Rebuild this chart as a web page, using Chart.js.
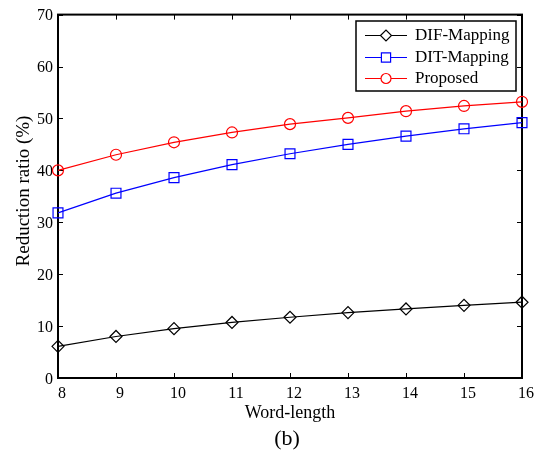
<!DOCTYPE html>
<html>
<head>
<meta charset="utf-8">
<script src="https://cdn.jsdelivr.net/npm/chart.js@4.4.1/dist/chart.umd.min.js"></script>
<style>
  html, body { margin: 0; padding: 0; background: #fff; }
  #wrap { width: 544px; height: 461px; }
</style>
</head>
<body>
<div id="wrap"><canvas id="myChart" width="544" height="461"></canvas></div>
<script>
const wordLengths = [8, 9, 10, 11, 12, 13, 14, 15, 16];
const difMapping = [6.1, 8.0, 9.5, 10.7, 11.7, 12.6, 13.3, 14.0, 14.6];
const ditMapping = [31.8, 35.6, 38.6, 41.1, 43.2, 45.0, 46.6, 48.0, 49.2];
const proposed = [40.0, 43.0, 45.4, 47.3, 48.9, 50.1, 51.4, 52.4, 53.2];
const xTicks = [8, 9, 10, 11, 12, 13, 14, 15, 16];
const yTicks = [0, 10, 20, 30, 40, 50, 60, 70];

const serif = '"Liberation Serif", "Times New Roman", serif';

function points(values) {
  return wordLengths.map((x, i) => ({ x: x, y: values[i] }));
}

// box, inward ticks, axis titles and the (b) caption
const frame = {
  id: 'frame',
  beforeDatasetsDraw(chart) {
    const { ctx, chartArea: a, scales } = chart;
    const tl = 5;
    ctx.save();
    ctx.strokeStyle = '#000';
    ctx.lineWidth = 1;
    ctx.beginPath();
    xTicks.forEach((v) => {
      const px = Math.round(scales.x.getPixelForValue(v)) + 0.5;
      ctx.moveTo(px, a.bottom); ctx.lineTo(px, a.bottom - tl);
      ctx.moveTo(px, a.top); ctx.lineTo(px, a.top + tl);
    });
    yTicks.forEach((v) => {
      const py = Math.round(scales.y.getPixelForValue(v)) + 0.5;
      ctx.moveTo(a.left, py); ctx.lineTo(a.left + tl, py);
      ctx.moveTo(a.right, py); ctx.lineTo(a.right - tl, py);
    });
    ctx.stroke();
    ctx.lineWidth = 2;
    ctx.strokeRect(a.left, a.top, a.right - a.left, a.bottom - a.top);

    ctx.fillStyle = '#000';
    ctx.textAlign = 'center';
    ctx.textBaseline = 'middle';
    ctx.font = '18px ' + serif;
    ctx.fillText('Word-length', (a.left + a.right) / 2, 413);
    ctx.font = '22px ' + serif;
    ctx.fillText('(b)', (a.left + a.right) / 2 - 3, 439);
    ctx.translate(24, 191);
    ctx.rotate(-Math.PI / 2);
    ctx.font = '19px ' + serif;
    ctx.fillText('Reduction ratio (%)', 0, 0);
    ctx.restore();
  },
  afterDatasetsDraw(chart) {
    const { ctx } = chart;
    const box = { x: 356, y: 21, w: 160, h: 70 };
    ctx.save();
    ctx.fillStyle = '#fff';
    ctx.fillRect(box.x, box.y, box.w, box.h);
    ctx.strokeStyle = '#000';
    ctx.lineWidth = 1.5;
    ctx.strokeRect(box.x, box.y, box.w, box.h);
    const rows = [35, 57, 78];
    chart.data.datasets.forEach((ds, i) => {
      const y = rows[i];
      ctx.strokeStyle = ds.borderColor;
      ctx.lineWidth = 1;
      ctx.beginPath();
      ctx.moveTo(365, y + 0.5);
      ctx.lineTo(407, y + 0.5);
      ctx.stroke();
      ctx.fillStyle = '#fff';
      ctx.strokeStyle = ds.borderColor;
      ctx.lineWidth = 1.2;
      Chart.helpers.drawPoint(ctx, {
        pointStyle: ds.pointStyle,
        radius: ds.pointRadius - 0.5,
        borderWidth: 1.2,
        rotation: 0
      }, 386, y + 0.5);
      ctx.fillStyle = '#000';
      ctx.font = '17px ' + serif;
      ctx.textAlign = 'left';
      ctx.textBaseline = 'middle';
      ctx.fillText(ds.label, 415, y + 1);
    });
    ctx.restore();
  }
};

function series(label, values, color, style, r) {
  return {
    label: label,
    data: points(values),
    borderColor: color,
    backgroundColor: 'rgba(0,0,0,0)',
    pointBackgroundColor: 'rgba(0,0,0,0)',
    pointBorderColor: color,
    borderWidth: 1.2,
    pointBorderWidth: 1.2,
    pointStyle: style,
    pointRadius: r,
    tension: 0,
    clip: false
  };
}

new Chart(document.getElementById('myChart').getContext('2d'), {
  type: 'line',
  data: {
    datasets: [
      series('DIF-Mapping', difMapping, '#000000', 'rectRot', 6),
      series('DIT-Mapping', ditMapping, '#0000ff', 'rect', 7),
      series('Proposed', proposed, '#ff0000', 'circle', 5.5)
    ]
  },
  options: {
    responsive: false,
    animation: false,
    layout: { padding: { top: 14, right: 22, left: 0, bottom: 0 } },
    plugins: { legend: { display: false }, tooltip: { enabled: false } },
    scales: {
      x: {
        type: 'linear',
        min: 8,
        max: 16,
        afterFit: (s) => { s.height = 83; },
        grid: { display: false, drawTicks: false },
        border: { display: false },
        afterBuildTicks: (s) => { s.ticks = xTicks.map((v) => ({ value: v })); },
        ticks: { color: '#000', padding: 6, labelOffset: 4, maxRotation: 0, font: { family: serif, size: 16 } }
      },
      y: {
        min: 0,
        max: 70,
        afterFit: (s) => { s.width = 58; },
        grid: { display: false, drawTicks: false },
        border: { display: false },
        afterBuildTicks: (s) => { s.ticks = yTicks.map((v) => ({ value: v })); },
        ticks: { color: '#000', padding: 5, labelOffset: 1.5, font: { family: serif, size: 16 } }
      }
    }
  },
  plugins: [frame]
});
</script>
</body>
</html>
